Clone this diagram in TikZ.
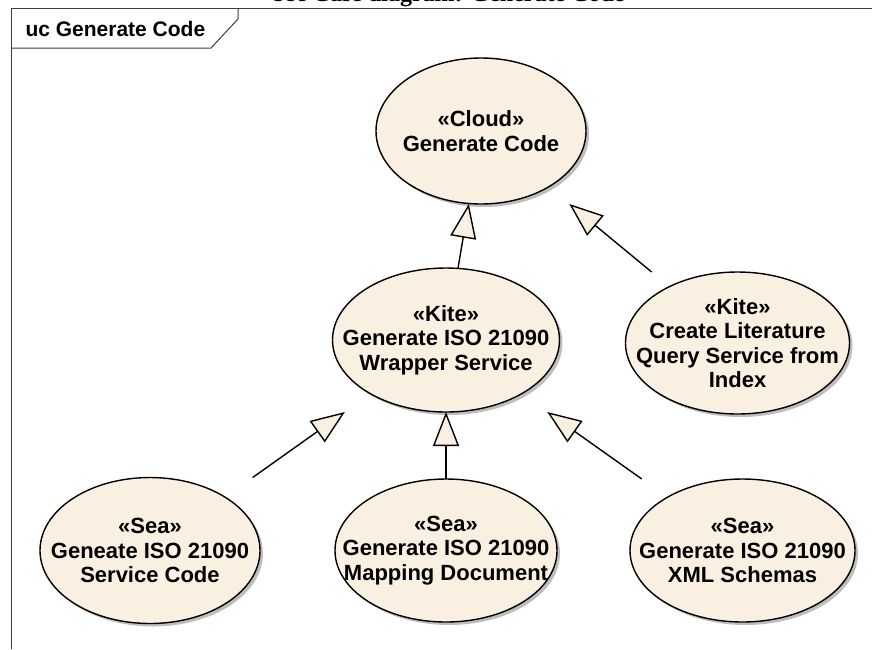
\documentclass[tikz,border=0pt]{standalone}
\usepackage{fontspec}
\setmainfont{Liberation Sans}
\newfontfamily\titlefont{Liberation Serif}
\usepackage{tikz}
\usetikzlibrary{arrows.meta,positioning,calc,shadows,backgrounds}
\definecolor{ucfill}{HTML}{FAF0E2}
\definecolor{ucshadow}{HTML}{BEBEBE}
\definecolor{framegray}{HTML}{3C3C3C}

\begin{document}
\begin{tikzpicture}[
  x=1pt,y=-1pt,
  font=\fontsize{21}{25}\selectfont\bfseries,
  usecase/.style={rectangle,align=center,inner sep=0pt,outer sep=0pt,minimum width=222pt,minimum height=144pt,
    font=\fontsize{22}{24.5}\selectfont\bfseries},
  ucshape/.style={draw=black,line width=1.4pt,fill=ucfill,drop shadow={shadow xshift=3pt,shadow yshift=-3pt,fill=ucshadow,opacity=1}},
  gen/.style={-{Triangle[length=34pt,width=26pt,fill=ucfill]},line width=1.4pt},
  frameline/.style={draw=framegray,line width=1pt}
]
  \clip (0,0) rectangle (872,649);

  \node[font=\titlefont\fontsize{24}{28}\selectfont\bfseries,anchor=base] (title) at (447,1.5) {Use Case diagram: Generate Code};
  \node[anchor=base west] (uclabel) at (22,36) {uc Generate Code};
  \draw[frameline] (11,649) -- (11,8) -- (872,8);
  \draw[frameline] (11,48) -- (211,48) -- (238,19) -- (238,8);

  \node[usecase,minimum width=227pt] (wrap) at (446,340) {«Kite»\\Generate ISO 21090\\Wrapper Service};
  \node[usecase,minimum width=210pt,minimum height=146pt,above=64pt of wrap,xshift=35pt] (cloud) {«Cloud»\\Generate Code};
  \node[usecase,minimum width=224pt,minimum height=142pt,right=66pt of wrap,yshift=-3pt] (lit) {«Kite»\\Create Literature\\Query Service from\\Index};
  \node[usecase,minimum height=143pt,below=67pt of wrap] (map) {«Sea»\\Generate ISO 21090\\Mapping Document};
  \node[usecase,minimum width=220pt,minimum height=146pt,left=75pt of map] (svc) {«Sea»\\Geneate ISO 21090\\Service Code};
  \node[usecase,minimum width=225pt,minimum height=143pt,right=73pt of map] (xml) {«Sea»\\Generate ISO 21090\\XML Schemas};

  \draw[gen] (wrap) -- (cloud);
  \draw[gen] (lit) -- (cloud);
  \draw[gen] (svc) -- (wrap);
  \draw[gen] (map) -- (wrap);
  \draw[gen] (xml) -- (wrap);

  \begin{scope}[on background layer]
    \foreach \uc in {cloud,wrap,lit,map,svc,xml}
      \path[ucshape] let \p1=($(\uc.north east)-(\uc.center)$) in (\uc.center) ellipse [x radius=\x1,y radius=\y1];
  \end{scope}
\end{tikzpicture}
\end{document}
